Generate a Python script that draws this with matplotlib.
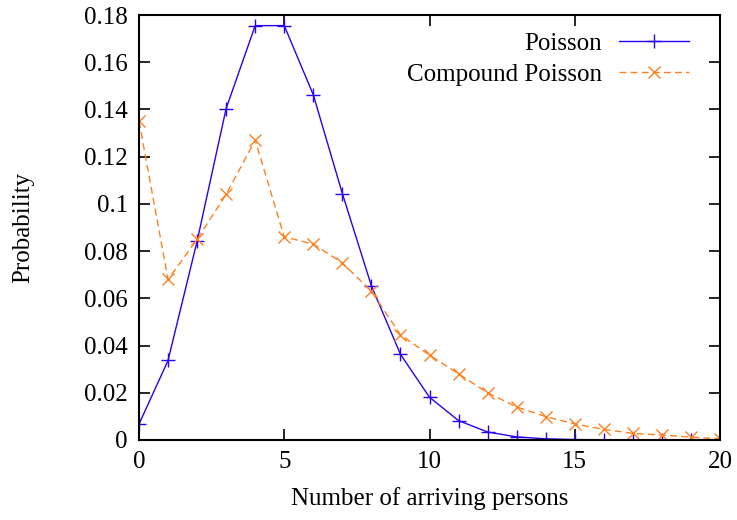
import matplotlib.pyplot as plt

plt.rcParams['font.family'] = ['Liberation Serif', 'DejaVu Serif']

# data
persons = list(range(21))
poisson = [0.0067, 0.0337, 0.0842, 0.1404, 0.1755, 0.1755, 0.1462, 0.1044,
           0.0653, 0.0363, 0.0181, 0.0082, 0.0034, 0.0013, 0.0005, 0.0002,
           0.0001, 0.0, 0.0, 0.0, 0.0]
compound = [0.135, 0.068, 0.085, 0.104, 0.127, 0.086, 0.083, 0.075,
            0.063, 0.0445, 0.036, 0.028, 0.020, 0.014, 0.0099, 0.0068,
            0.0045, 0.0028, 0.0021, 0.0012, 0.0005]
yticks = [0, 0.02, 0.04, 0.06, 0.08, 0.1, 0.12, 0.14, 0.16, 0.18]
ytick_labels = ['0', '0.02', '0.04', '0.06', '0.08', '0.1', '0.12', '0.14', '0.16', '0.18']

fig = plt.figure(figsize=(7.37, 5.2), dpi=100)
ax = fig.add_axes([139 / 737, 80 / 520, 581 / 737, 425 / 520])

ax.plot(persons, poisson, color='#2a00f0', lw=1, marker='+', ms=10, mew=1,
        label='Poisson')
ax.plot(persons, compound, color='#ff8020', lw=1, ls=(0, (5, 3)), marker='x',
        ms=9, mew=1, label='Compound Poisson')

ax.set_xlim(0, 20)
ax.set_ylim(0, 0.18)
ax.set_xticks([0, 5, 10, 15, 20])
ax.set_yticks(yticks)
ax.set_yticklabels(ytick_labels)
ax.tick_params(direction='in', length=8, width=1.2, top=True, right=True,
               labelsize=18, pad=8)
for s in ax.spines.values():
    s.set_linewidth(1.5)

ax.set_xlabel('Number of arriving persons', fontsize=18, labelpad=10)
ax.set_ylabel('Probability', fontsize=18, labelpad=36)

leg = ax.legend(loc='upper right', frameon=False, markerfirst=False,
                fontsize=18, handlelength=2.8, borderaxespad=0.2,
                borderpad=0.3, labelspacing=0.32, handletextpad=0.7)
# legend sits a bit left of the right border, like gnuplot
leg.set_bbox_to_anchor((0.969, 0.988))

fig.savefig('out.png', dpi=100)
